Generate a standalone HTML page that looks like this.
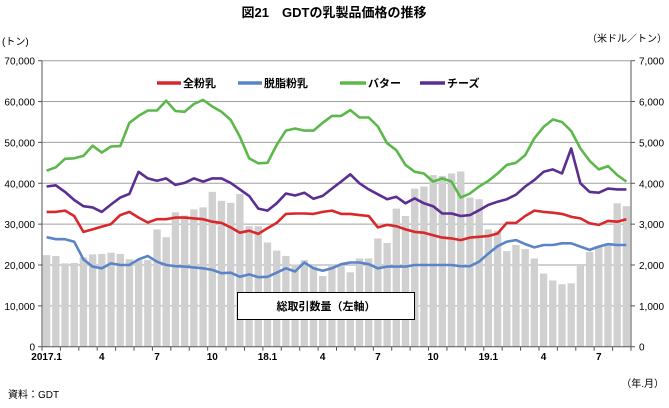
<!DOCTYPE html>
<html><head><meta charset="utf-8"><style>
body{margin:0;background:#fff;}
svg text{font-family:"Liberation Sans","Noto Sans CJK JP",sans-serif;}
</style></head><body>
<svg width="669" height="403" viewBox="0 0 669 403" xmlns="http://www.w3.org/2000/svg">
<text x="334" y="17" text-anchor="middle" font-size="13" font-weight="bold">図21　GDTの乳製品価格の推移</text>
<text x="2" y="45" font-size="10">(トン)</text>
<text x="667" y="42" text-anchor="end" font-size="10">（米ドル／トン）</text>
<text x="8" y="398" font-size="10">資料：GDT</text>
<text x="664" y="387" text-anchor="end" font-size="10">（年.月）</text>
<g id="grid"></g><g id="bars"></g><g id="lines"></g><g id="axes"></g>
<g>
<line x1="157" y1="83" x2="181" y2="83" stroke="#d9282b" stroke-width="3.5"/><text x="183" y="87" font-size="11" font-weight="bold">全粉乳</text>
<line x1="238" y1="83" x2="262" y2="83" stroke="#5b84c8" stroke-width="3.5"/><text x="264" y="87" font-size="11" font-weight="bold">脱脂粉乳</text>
<line x1="340" y1="83" x2="366" y2="83" stroke="#5cb84a" stroke-width="3.5"/><text x="368" y="87" font-size="11" font-weight="bold">バター</text>
<line x1="420" y1="83" x2="445" y2="83" stroke="#5b2e91" stroke-width="3.5"/><text x="447" y="87" font-size="11" font-weight="bold">チーズ</text>
</g>
<g>
<rect x="237.5" y="292.5" width="177" height="27" fill="#fff" stroke="#000" stroke-width="1"/>
<text x="326" y="310" text-anchor="middle" font-size="11" font-weight="bold">総取引数量（左軸）</text>
</g>
</svg>
<script>
const volume=[22.4,22.2,20.4,20.5,21.9,22.6,22.7,23.0,22.7,21.4,21.2,21.2,28.7,26.8,32.9,32.1,33.6,34.1,37.9,35.7,35.2,37.4,29.5,29.5,25.5,23.5,22.2,20.1,21.2,19.7,17.3,20.0,20.0,18.2,21.6,21.6,26.5,25.4,33.8,32.0,38.7,39.2,42.0,41.8,42.4,42.9,36.5,36.1,28.7,28.4,23.4,24.9,23.9,21.6,17.9,16.2,15.3,15.5,20.0,23.2,24.5,25.3,35.1,34.4];
const wmp=[33.0,33.0,33.3,32.0,28.1,28.7,29.4,30.0,32.2,33.0,31.6,30.4,31.2,31.2,31.6,31.6,31.4,31.2,30.6,30.3,29.2,27.9,28.4,27.6,29.0,30.3,32.5,32.6,32.6,32.5,33.0,33.3,32.5,32.5,32.2,32.0,29.2,29.8,29.5,28.7,28.1,27.9,27.3,26.7,26.5,26.1,26.7,26.9,27.1,27.7,30.3,30.3,32.0,33.3,33.0,32.8,32.5,31.8,31.4,30.2,29.8,30.8,30.6,31.2];
const smp=[26.8,26.3,26.3,25.7,21.4,19.6,19.2,20.4,20.0,20.0,21.4,22.2,20.8,20.0,19.7,19.6,19.4,19.2,18.8,18.0,18.1,17.1,17.7,17.0,17.1,18.1,19.2,18.4,20.6,19.2,18.6,19.2,20.2,20.6,20.6,20.2,19.2,19.6,19.6,19.6,20.0,20.0,20.0,20.0,20.0,19.7,19.7,20.8,22.8,24.6,25.7,26.1,25.1,24.3,24.9,24.9,25.3,25.3,24.5,23.7,24.5,25.1,24.9,24.9];
const butter=[43.1,43.9,46.0,46.1,46.7,49.2,47.5,49.0,49.1,54.8,56.5,57.8,57.8,60.2,57.7,57.5,59.4,60.4,58.8,57.5,55.5,51.4,46.1,44.9,45.0,49.4,52.9,53.4,52.9,52.9,54.8,56.5,56.5,57.9,56.1,56.1,53.9,49.8,48.1,44.5,42.8,42.4,40.4,41.2,40.4,36.5,37.5,39.2,40.6,42.4,44.5,45.0,46.9,51.0,53.8,55.6,55.0,52.8,48.5,45.5,43.4,44.2,42.0,40.4];
const cheese=[39.2,39.5,37.9,35.9,34.4,34.1,33.0,34.8,36.5,37.4,42.8,41.2,40.6,41.2,39.6,40.1,41.2,40.4,41.2,41.2,40.1,38.5,36.9,33.8,33.3,35.1,37.5,37.0,37.7,36.2,36.9,38.7,40.4,42.2,40.0,38.5,37.3,36.1,36.7,35.1,36.3,35.1,34.4,32.6,32.6,32.0,32.2,33.4,34.7,35.5,36.1,37.2,39.2,40.8,42.8,43.4,42.4,48.5,40.0,37.9,37.7,38.7,38.5,38.5];
const leftTicks=["0","10,000","20,000","30,000","40,000","50,000","60,000","70,000"];
const rightTicks=["0","1,000","2,000","3,000","4,000","5,000","6,000","7,000"];
const monthLabels=["2017.1","4","7","10","18.1","4","7","10","19.1","4","7"];
const NS="http://www.w3.org/2000/svg";
const X0=42,X1=631,Y0=346.7,Y1=60.7;
const n=volume.length;
const step=(X1-X0)/n;
function xs(i){return X0+step*(i+0.5);}
function ys(v){return Y0-(v/70)*(Y0-Y1);}
function mk(tag,attrs,parent){const e=document.createElementNS(NS,tag);for(const k in attrs)e.setAttribute(k,attrs[k]);parent.appendChild(e);return e;}
const grid=document.getElementById('grid'),bars=document.getElementById('bars'),lines=document.getElementById('lines'),axes=document.getElementById('axes');
leftTicks.forEach((t,k)=>{const y=ys(k*10);
 if(k>0){const g=mk('line',{x1:X0,x2:X1,y1:y,y2:y,stroke:'#a0a0a0','stroke-width':1},grid);
 
 }
 const a=mk('text',{x:35,y:y+4,'text-anchor':'end','font-size':10},axes);a.textContent=t;
 
 
 const b=mk('text',{x:639,y:y+4,'font-size':10},axes);b.textContent=rightTicks[k];
 
 
 mk('line',{x1:X0-4,x2:X0,y1:y,y2:y,stroke:'#555'},axes);
 mk('line',{x1:X1,x2:X1+4,y1:y,y2:y,stroke:'#555'},axes);
});
volume.forEach((v,i)=>{const w=step*0.8;
 const r=mk('rect',{x:xs(i)-w/2,y:ys(v),width:w,height:Y0-ys(v),fill:'#d0d0d0'},bars);
 
 });
function line(arr,col,name){const d=arr.map((v,i)=>(i?'L':'M')+xs(i).toFixed(1)+','+ys(v).toFixed(1)).join('');
 const p=mk('path',{d:d,fill:'none',stroke:col,'stroke-width':2.6,'stroke-linejoin':'round'},lines);
 
 }
line(smp,'#5b84c8','smp-line');line(wmp,'#d9282b','wmp-line');line(butter,'#5cb84a','butter-line');line(cheese,'#5b2e91','cheese-line');
mk('line',{x1:X0,x2:X0,y1:Y1,y2:Y0,stroke:'#555'},axes);
mk('line',{x1:X1,x2:X1,y1:Y1,y2:Y0,stroke:'#555'},axes);
mk('line',{x1:X0,x2:X1,y1:Y0,y2:Y0,stroke:'#555'},axes);
for(let i=0;i<=n;i+=2){mk('line',{x1:X0+step*i,x2:X0+step*i,y1:Y0,y2:Y0+4,stroke:'#555'},axes);}
monthLabels.forEach((t,k)=>{const l=mk('text',{x:xs(k*6),y:360,'text-anchor':'middle','font-size':10,'font-weight':'bold'},axes);l.textContent=t;
 
 });
</script>
</body></html>
